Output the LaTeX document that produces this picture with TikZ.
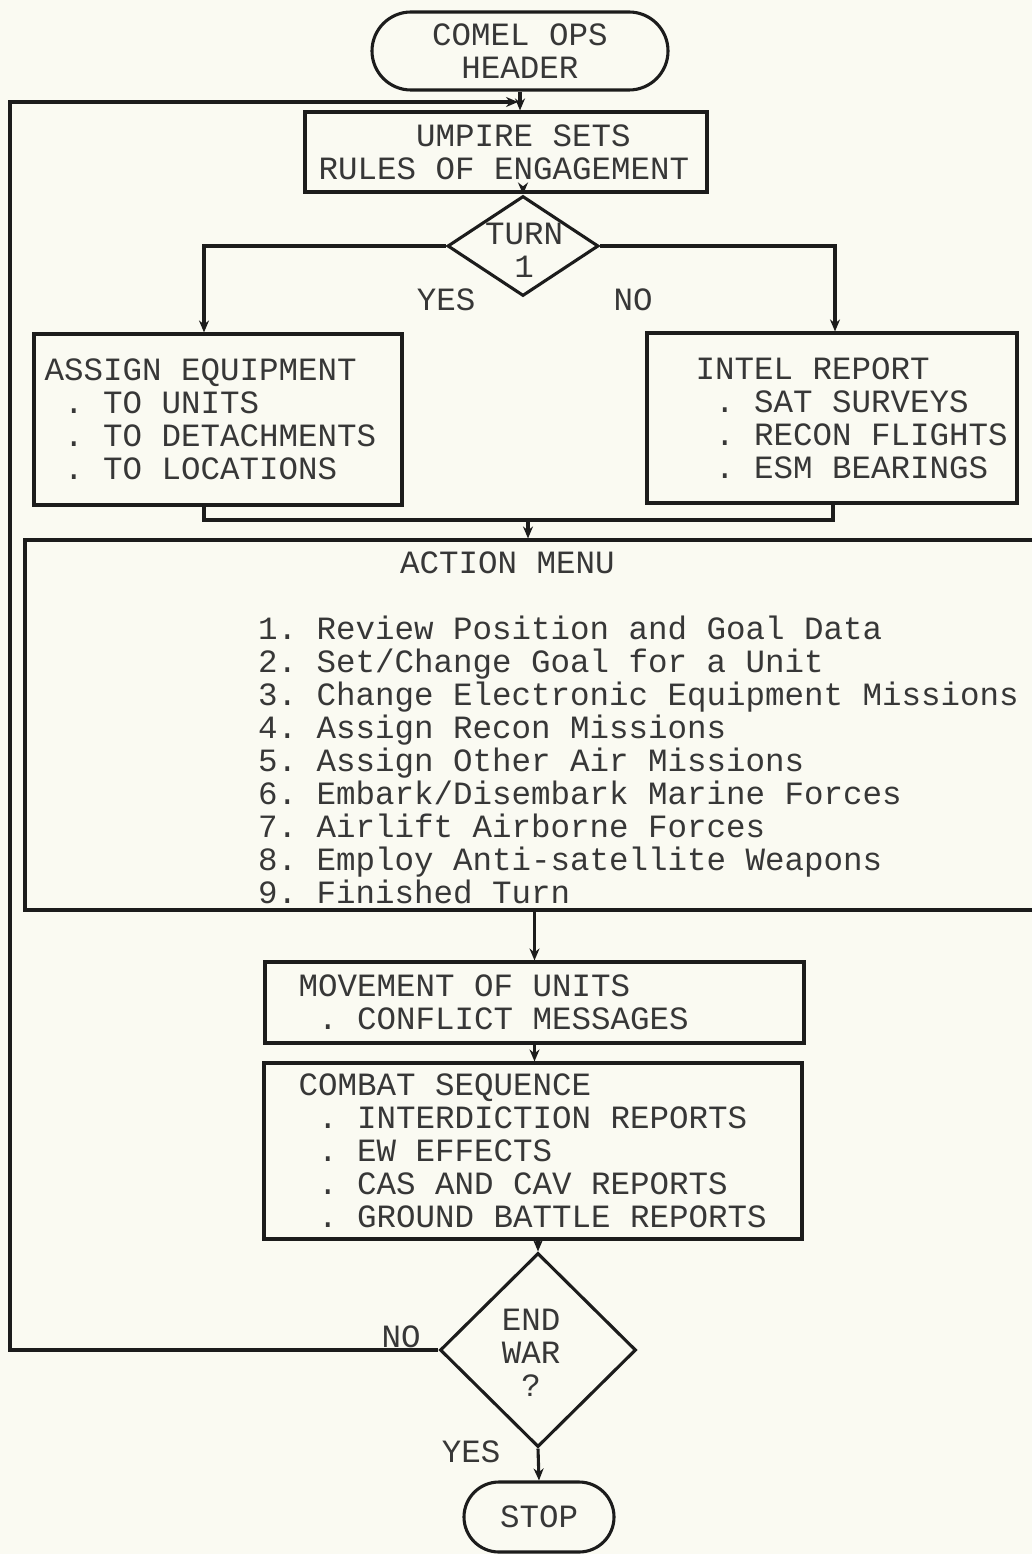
\documentclass[tikz,border=0pt]{standalone}
\usepackage{fontspec}
\setmonofont{Liberation Mono}
\usetikzlibrary{arrows.meta,shapes.geometric,shapes.misc}
\definecolor{paper}{RGB}{250,250,242}
\definecolor{ink}{RGB}{28,28,28}
\definecolor{type}{RGB}{55,55,55}
% one blank typewriter column
\newcommand\tabsp{\phantom{0}}
\begin{document}
\begin{tikzpicture}[x=1pt,y=-1pt,
  every node/.style={font=\ttfamily\fontsize{32.5}{33}\selectfont, text=type},
  line/.style={draw=ink, line width=3.1pt},
  flow/.style={line, -{Stealth[length=12pt,width=10pt]}},
  box/.style={draw=ink, line width=3.1pt, rectangle, inner sep=0pt},
  term/.style={draw=ink, line width=3.1pt, rounded rectangle, inner sep=0pt, align=center},
  decision/.style={draw=ink, line width=3.1pt, diamond, inner sep=0pt},
  body/.style={anchor=west, align=left, inner sep=0pt},
  tag/.style={inner sep=0pt, align=center}]

\fill[paper] (0,0) rectangle (1032,1554);
\useasboundingbox (0,0) rectangle (1032,1554);

% start terminal and setup
\node[term, minimum width=296pt, minimum height=78pt] (header) at (520,51) {COMEL OPS\\HEADER};
\node[box, minimum width=402pt, minimum height=80pt] (umpire) at (506,152) {};
\node[body] (umpiretext) at ([xshift=15pt]umpire.west)
  {\phantom{00000}UMPIRE SETS\\RULES OF ENGAGEMENT};

% first-turn test
\node[decision, minimum width=151pt, minimum height=100pt] (turn) at (523,246) {};
\node[tag] (turntext) at (524,250) {TURN\\1};
\node[tag] (yes1) at (446,300) {YES};
\node[tag] (no1) at (633,300) {NO};

% the two branches
\node[box, minimum width=368pt, minimum height=171pt] (assign) at (218,419.5) {};
\node[body] (assigntext) at ([xshift=12pt]assign.west)
  {ASSIGN EQUIPMENT\\\tabsp. TO UNITS\\\tabsp. TO DETACHMENTS\\\tabsp. TO LOCATIONS};
\node[box, minimum width=370pt, minimum height=170pt] (intel) at (832,418) {};
\node[body] (inteltext) at ([xshift=50pt]intel.west)
  {INTEL REPORT\\\tabsp. SAT SURVEYS\\\tabsp. RECON FLIGHTS\\\tabsp. ESM BEARINGS};

% action menu (runs off the right edge)
\node[box, minimum width=1020pt, minimum height=370pt] (menu) at (535,725) {};
\node[anchor=north west, align=left, inner sep=0pt] (menutext) at (258,552)
  {\hspace*{142pt}ACTION MENU\\[33pt]
   1. Review Position and Goal Data\\
   2. Set/Change Goal for a Unit\\
   3. Change Electronic Equipment Missions\\
   4. Assign Recon Missions\\
   5. Assign Other Air Missions\\
   6. Embark/Disembark Marine Forces\\
   7. Airlift Airborne Forces\\
   8. Employ Anti-satellite Weapons\\
   9. Finished Turn};

% movement and combat
\node[box, minimum width=539pt, minimum height=81pt] (move) at (534.5,1002.5) {};
\node[body] (movetext) at ([xshift=35pt]move.west)
  {MOVEMENT OF UNITS\\\tabsp. CONFLICT MESSAGES};
\node[box, minimum width=538pt, minimum height=176pt] (combat) at (533,1151) {};
\node[body] (combattext) at ([xshift=36pt]combat.west)
  {COMBAT SEQUENCE\\\tabsp. INTERDICTION REPORTS\\\tabsp. EW EFFECTS\\\tabsp. CAS AND CAV REPORTS\\\tabsp. GROUND BATTLE REPORTS};

% end-of-war test and stop
\node[decision, minimum width=196pt, minimum height=194pt] (endwar) at (538,1350) {};
\node[tag] (endwartext) at (531,1353) {END\\WAR\\?};
\node[tag] (no2) at (401,1337) {NO};
\node[tag] (yes2) at (471,1452) {YES};
\node[term, minimum width=150pt, minimum height=70pt] (stop) at (539,1517) {STOP};

% connectors
\coordinate (loopin) at (518,102);
\coordinate (looptop) at (10,102);
\coordinate (mergeC) at (528,520);

\draw[flow] (header.south) -- (header.south |- umpire.north);
\draw[flow] (turn.north |- umpire.south) -- (turn.north);
\draw[flow] (turn.west) -| ([xshift=-14pt]assign.north);
\draw[flow] (turn.east) -| ([xshift=3pt]intel.north);
\draw[line] ([xshift=-14pt]assign.south) |- (mergeC) -| ([xshift=1pt]intel.south);
\draw[flow] (mergeC) -- (mergeC |- menu.north);
\draw[flow] (move.north |- menu.south) -- (move.north);
\draw[flow] (move.south) -- (move.south |- combat.north);
\draw[flow] (endwar.north |- combat.south) -- (endwar.north);
\draw[flow] (endwar.south) -- (stop.north);
\draw[flow] (endwar.west) -| (looptop) -- (loopin);
\end{tikzpicture}
\end{document}
